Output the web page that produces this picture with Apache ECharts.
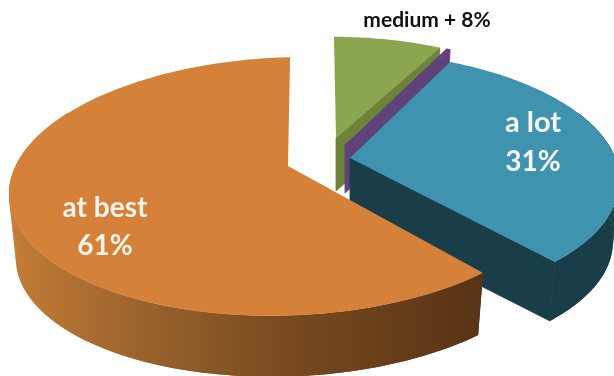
<!DOCTYPE html>
<html>
<head>
<meta charset="utf-8">
<style>html,body{margin:0;padding:0;background:#fff}#chart{width:614px;height:376px}</style>
<script src="https://cdn.jsdelivr.net/npm/echarts@6/dist/echarts.min.js"></script>
</head>
<body>
<div id="chart"></div>
<script>
// Survey shares, clockwise from twelve o'clock
const categories = ['medium +', 'high', 'a lot', 'at best'];
const shares = [8, 0.3, 31, 61];

// Top-face colour and wall colour of each slice
const faceColors = ['#8CA64F', '#5E4279', '#3F93AE', '#D68139'];
const wallColors = ['#6C8339', '#5E4279', '#1A3D4A', null];

// Exploded slice placement: apex, depth and width factors, lean, tilt, wall depth
const slicePlacement = [
  { x: 336, y: 138, size: 0.93, xSize: 0.91, lean: 0.02, tilt: 0, depth: 53 },
  { x: 345, y: 145, size: 0.995, xSize: 0.875, lean: 0, tilt: 0, depth: 48 },
  { x: 350, y: 158, size: 0.97, xSize: 0.958, lean: 0.156, tilt: -0.0226, depth: 61.6 },
  { x: 288, y: 166, size: 1, xSize: 1, lean: -0.019, tilt: -0.024, depth: 64.7 }
];

// Perspective disc: radii, foreshortening, shrink of the lower rim
const RX = 275, RY = 126, PERSPECTIVE = 0.158, LOWER_SHRINK = 0.975;

// Wall shading of the large slice, left to right
const sweepWall = {
  type: 'linear', x: 15, y: 0, x2: 483, y2: 0, global: true,
  colorStops: [
    { offset: 0, color: '#C27B36' },
    { offset: 0.3, color: '#96602B' },
    { offset: 0.6, color: '#76491F' },
    { offset: 1, color: '#593316' }
  ]
};

const total = shares.reduce((a, b) => a + b, 0);
const startAngles = [];
shares.reduce((acc, v, i) => { startAngles[i] = acc; return acc + v / total * 360; }, 0);

function rimPoint(place, deg) {
  const t = deg * Math.PI / 180;
  const w = 1 + PERSPECTIVE * Math.cos(t);
  const rawX = RX * Math.sin(t) / w;
  const rawY = -RY * Math.cos(t) / w;
  const dy = rawY * place.size + place.tilt * rawX;
  const dx = rawX * place.xSize + place.lean * dy;
  return [place.x + dx, place.y + dy];
}
function lowered(place, p) {
  return [place.x + (p[0] - place.x) * LOWER_SHRINK,
          place.y + place.depth + (p[1] - place.y) * LOWER_SHRINK];
}
function arc(place, from, to) {
  const pts = [];
  const n = Math.max(2, Math.ceil(Math.abs(to - from)));
  for (let i = 0; i <= n; i++) pts.push(rimPoint(place, from + (to - from) * i / n));
  return pts;
}

function renderSlice(params, api) {
  const i = params.dataIndex;
  const value = api.value(0);
  const place = slicePlacement[i];
  const from = startAngles[i];
  const to = from + value / total * 360;
  const apex = [place.x, place.y];
  const wallFill = wallColors[i] || sweepWall;
  const children = [];

  // cut wall along the trailing radial edge, turned towards the viewer
  const end = rimPoint(place, to);
  if (to < 180) {
    children.push({
      type: 'polygon',
      shape: { points: [apex, end, lowered(place, end), lowered(place, apex)] },
      style: { fill: wallFill, stroke: wallFill, lineWidth: 0.8 }
    });
  }

  // curved outer wall, only where it faces front; the narrow strips on top
  // fill the tangent edge between upper and lower rim at the disc's sides
  const a = Math.max(from, 70), b = Math.min(to, 300);
  if (b > a) {
    const rim = arc(place, a, b);
    const low = rim.map(p => lowered(place, p)).reverse();
    children.push({ type: 'polygon', shape: { points: rim.concat(low) }, style: { fill: wallFill } });
    for (let d = a; d < b; d += 2) {
      const p = rimPoint(place, d), q = rimPoint(place, Math.min(d + 2, b));
      children.push({
        type: 'polygon',
        shape: { points: [p, q, lowered(place, q), lowered(place, p)] },
        style: { fill: wallFill }
      });
    }
  }

  // top face
  children.push({
    type: 'polygon',
    shape: { points: [apex].concat(arc(place, from, to)) },
    style: { fill: faceColors[i] }
  });
  return { type: 'group', children };
}

const labelStyle = { fontFamily: 'Lato', fontWeight: 'bold', align: 'center', verticalAlign: 'middle' };
const pct = i => shares[i] + '%';

const chart = echarts.init(document.getElementById('chart'), null, { renderer: 'canvas' });
chart.setOption({
  animation: false,
  backgroundColor: '#fff',
  series: [{
    type: 'custom',
    coordinateSystem: 'none',
    clip: false,
    renderItem: renderSlice,
    data: shares.map((v, i) => ({ value: [v], name: categories[i] }))
  }],
  graphic: [
    { type: 'text', z: 10, x: 427, y: 20, style: { ...labelStyle, text: categories[0] + ' ' + pct(0), fill: '#111', fontSize: 21 } },
    { type: 'text', z: 10, x: 533, y: 123, style: { ...labelStyle, text: categories[2], fill: '#F4F8F9', fontSize: 29 } },
    { type: 'text', z: 10, x: 533, y: 162, style: { ...labelStyle, text: pct(2), fill: '#F4F8F9', fontSize: 28 } },
    { type: 'text', z: 10, x: 105, y: 208, style: { ...labelStyle, text: categories[3], fill: '#FBF3EA', fontSize: 28 } },
    { type: 'text', z: 10, x: 105, y: 246, style: { ...labelStyle, text: pct(3), fill: '#FBF3EA', fontSize: 28 } }
  ]
});
</script>
</body>
</html>
